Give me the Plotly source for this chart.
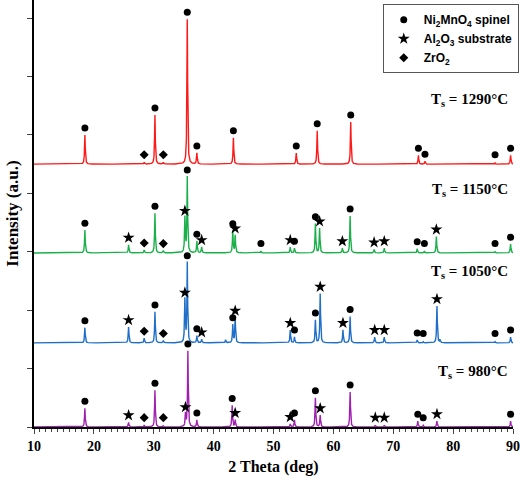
import numpy as np
import plotly.graph_objects as go

# peaks: position (deg), height (a.u. above baseline), phase: N=Ni2MnO4, A=Al2O3, Z=ZrO2, "-"=unmarked
r_x = [18.5, 28.4, 30.2, 31.6, 35.6, 37.2, 43.3, 53.8, 57.3, 62.9, 74.2, 75.3, 87.0, 89.6]
r_h = [0.50, 0.03, 0.84, 0.03, 2.48, 0.19, 0.45, 0.19, 0.57, 0.72, 0.15, 0.05, 0.02, 0.15]
r_p = ["N", "Z", "N", "Z", "N", "N", "N", "N", "N", "N", "N", "N", "N", "N"]

g_x = [18.5, 25.8, 28.4, 30.2, 31.6, 35.2, 35.6, 37.2, 38.0, 43.2, 43.6, 47.9, 52.8, 53.5, 57.0, 57.7, 61.5, 62.8, 66.8, 68.5, 74.0, 75.2, 77.2, 87.0, 89.6]
g_h = [0.39, 0.14, 0.05, 0.68, 0.04, 0.60, 1.30, 0.20, 0.10, 0.38, 0.30, 0.03, 0.10, 0.08, 0.50, 0.42, 0.08, 0.63, 0.06, 0.08, 0.07, 0.03, 0.28, 0.02, 0.15]
g_p = ["N", "A", "Z", "N", "Z", "A", "N", "N", "A", "N", "A", "N", "A", "N", "N", "A", "A", "N", "A", "A", "N", "N", "A", "N", "N"]

b_x = [18.5, 25.8, 28.4, 30.2, 31.6, 35.2, 35.6, 37.2, 38.0, 42.0, 43.2, 43.6, 52.8, 53.5, 57.0, 57.8, 61.6, 62.8, 66.9, 68.5, 74.0, 75.0, 77.3, 77.8, 87.0, 89.6]
b_h = [0.26, 0.27, 0.08, 0.53, 0.04, 0.74, 1.37, 0.12, 0.06, 0.05, 0.31, 0.43, 0.22, 0.10, 0.39, 0.84, 0.22, 0.45, 0.10, 0.10, 0.05, 0.02, 0.63, 0.05, 0.02, 0.10]
b_p = ["N", "A", "Z", "N", "Z", "A", "N", "N", "A", "-", "N", "A", "A", "N", "N", "A", "A", "N", "A", "A", "N", "N", "A", "-", "N", "N"]

m_x = [18.5, 25.8, 28.4, 30.2, 31.6, 35.3, 35.7, 37.2, 43.1, 43.6, 52.8, 53.5, 57.0, 57.8, 62.8, 67.0, 68.5, 74.1, 75.0, 77.3, 89.6]
m_h = [0.32, 0.08, 0.03, 0.63, 0.02, 0.22, 1.30, 0.12, 0.37, 0.12, 0.05, 0.12, 0.50, 0.20, 0.60, 0.03, 0.03, 0.10, 0.03, 0.10, 0.10]
m_p = ["N", "A", "Z", "N", "Z", "A", "N", "N", "N", "A", "A", "N", "N", "A", "N", "A", "A", "N", "N", "A", "N"]

series = [
    ("980", 0.00, "#a020b0", m_x, m_h, m_p),
    ("1050", 1.44, "#1f6fc8", b_x, b_h, b_p),
    ("1150", 2.98, "#19b04a", g_x, g_h, g_p),
    ("1290", 4.50, "#ff1a1a", r_x, r_h, r_p),
]
label_pos = {"980": 0.95, "1050": 2.65, "1150": 4.05, "1290": 5.6}

sym = {"N": "circle", "A": "star", "Z": "diamond"}
msize = {"N": 7, "A": 9, "Z": 7}

xg = np.arange(10, 90.01, 0.02)
fig = go.Figure()
for name, base, col, xs, hs, ps in series:
    y = np.full_like(xg, base)
    for xp, hp in zip(xs, hs):
        w = 0.07
        y = y + hp * w**2 / ((xg - xp) ** 2 + w**2)
    fig.add_trace(go.Scatter(x=xg, y=y, mode="lines", line=dict(color=col, width=1.4),
                             showlegend=False, hoverinfo="skip"))
    for ph in ["N", "A", "Z"]:
        mx = [xp for xp, p in zip(xs, ps) if p == ph]
        my = [base + max(hp, 0.04) + 0.12 for hp, p in zip(hs, ps) if p == ph]
        fig.add_trace(go.Scatter(x=mx, y=my, mode="markers", showlegend=False, cliponaxis=False,
                                 marker=dict(symbol=sym[ph], size=msize[ph], color="black")))
    fig.add_annotation(x=89.5, y=label_pos[name], xanchor="right", yanchor="middle",
                       text=f"T<sub>s</sub> = {name}°C", showarrow=False,
                       font=dict(family="Liberation Serif", size=15, color="black", weight="bold"))

for ph, txt in [("N", "Ni<sub>2</sub>MnO<sub>4</sub> spinel"), ("A", "Al<sub>2</sub>O<sub>3</sub> substrate"), ("Z", "ZrO<sub>2</sub>")]:
    fig.add_trace(go.Scatter(x=[None], y=[None], mode="markers", name=txt,
                             marker=dict(symbol=sym[ph], size=msize[ph], color="black")))

fig.update_layout(
    width=520, height=482, margin=dict(l=34, r=7, t=0, b=55),
    plot_bgcolor="white", paper_bgcolor="white",
    legend=dict(x=1.012, y=0.99, xanchor="right", yanchor="top", bgcolor="white",
                bordercolor="#555", borderwidth=1, tracegroupgap=0, itemwidth=30,
                font=dict(family="Liberation Sans", size=12, color="black", weight="bold")),
    xaxis=dict(range=[10, 90], dtick=10, ticks="outside", ticklen=5, showline=True,
               linecolor="black", linewidth=1.5, showgrid=False, zeroline=False, automargin=False,
               minor=dict(dtick=1, ticks="outside", ticklen=3),
               tickfont=dict(family="Liberation Serif", size=14, color="black", weight="bold"),
               title=dict(text="2 Theta (deg)", standoff=8,
                          font=dict(family="Liberation Serif", size=16, color="black", weight="bold"))),
    yaxis=dict(range=[0, 7.31], dtick=1, ticks="outside", ticklen=5, showticklabels=False,
               showline=True, linecolor="black", linewidth=1.5, showgrid=False, zeroline=False,
               automargin=False,
               title=dict(text="Intensity (a.u.)", standoff=4,
                          font=dict(family="Liberation Serif", size=17, color="black", weight="bold"))),
)
fig.write_html("out.html", config={"displayModeBar": False},
               post_script="document.body.style.margin='0';")
